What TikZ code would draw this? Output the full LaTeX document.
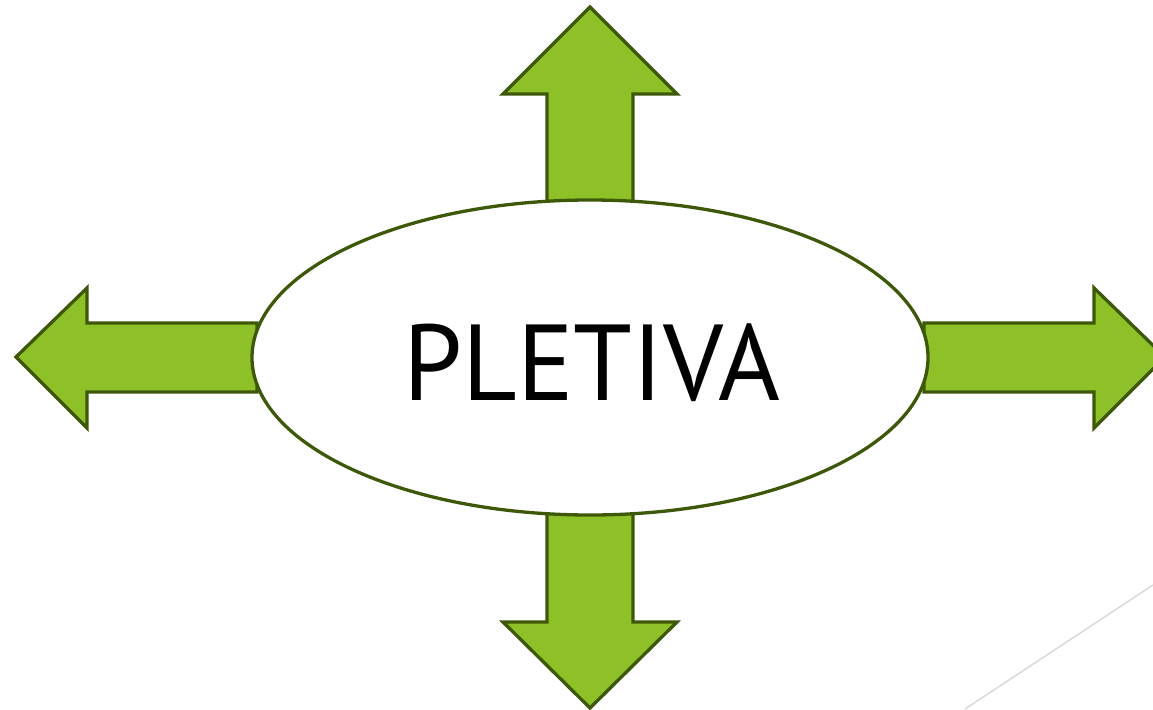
\documentclass[tikz,border=0pt]{standalone}
\usepackage{fontspec}
\setmainfont{PT Sans}
\usetikzlibrary{shapes.geometric}
\definecolor{arrowfill}{RGB}{142,192,40}
\definecolor{arrowline}{RGB}{62,88,10}
\definecolor{faint}{RGB}{217,217,217}
\tikzset{
  bigarrow/.style={fill=arrowfill, draw=arrowline, line width=3.3pt, line join=miter},
  centre/.style={ellipse, draw=arrowline, fill=white, line width=3.3pt, inner sep=0pt,
    minimum width=676pt, minimum height=315pt}
}
\begin{document}
\begin{tikzpicture}[x=1pt,y=-1pt]
\useasboundingbox (0,0) rectangle (1153,709);
\draw[faint, line width=1.5pt] (965,709) -- (1153,585);
% up
\draw[bigarrow] (547,205) -- (547,94) -- (503,94) -- (590,7) -- (677,94) -- (633,94) -- (633,205) -- cycle;
% down
\draw[bigarrow] (547,510) -- (547,622) -- (503,622) -- (590,708) -- (677,622) -- (633,622) -- (633,510) -- cycle;
% left
\draw[bigarrow] (257,323) -- (87,323) -- (87,288) -- (16,357) -- (87,428) -- (87,392) -- (257,392) -- cycle;
% right
\draw[bigarrow] (924,323) -- (1094,323) -- (1094,288) -- (1165,357) -- (1094,428) -- (1094,392) -- (924,392) -- cycle;
\node[centre] (c) at (590,357.5) {};
\node[font=\fontsize{108}{120}\selectfont, inner sep=0pt, anchor=base, xscale=0.98] (t) at (592,400) {PLETIVA};
\end{tikzpicture}
\end{document}
